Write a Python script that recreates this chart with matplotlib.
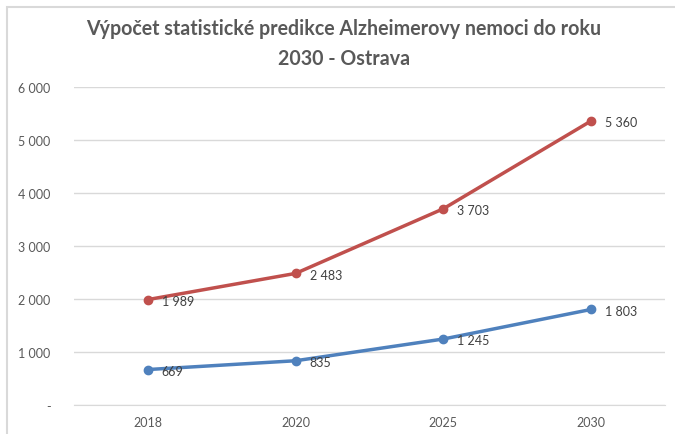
import matplotlib
matplotlib.use("Agg")
import matplotlib.pyplot as plt
from matplotlib.patches import Rectangle

years = ["2018", "2020", "2025", "2030"]
red_values = [1989, 2483, 3703, 5360]
blue_values = [669, 835, 1245, 1803]
yticks = [0, 1000, 2000, 3000, 4000, 5000, 6000]
title = "Výpočet statistické predikce Alzheimerovy nemoci do roku\n2030 - Ostrava"

def fmt(v):
    if v == 0:
        return "-"
    return f"{v:,}".replace(",", " ")

plt.rcParams['font.family'] = ['Lato', 'DejaVu Sans']

fig = plt.figure(figsize=(6.75, 4.35), dpi=100)
fig.patches.append(Rectangle((7/675, -0.1), 1.2, 1 - 8/435 + 0.1, transform=fig.transFigure,
                             facecolor='white', edgecolor='#D9D9D9', lw=1.5, zorder=-1))
ax = fig.add_axes([74/675, 1 - 406/435, (665 - 74)/675, (406 - 88)/435])
ax.set_facecolor('none')

x = list(range(len(years)))
red = '#C0504D'
blue = '#4F81BD'
ax.plot(x, red_values, color=red, lw=2.5, marker='o', ms=6, zorder=3)
ax.plot(x, blue_values, color=blue, lw=2.5, marker='o', ms=6, zorder=3)
for xi, v in zip(x, red_values):
    ax.annotate(fmt(v), (xi, v), xytext=(10, -1), textcoords='offset points',
                va='center', ha='left', fontsize=9, color='#404040')
for xi, v in zip(x, blue_values):
    ax.annotate(fmt(v), (xi, v), xytext=(10, -1), textcoords='offset points',
                va='center', ha='left', fontsize=9, color='#404040')

ax.set_xlim(-0.5, len(years) - 0.5)
ax.set_ylim(0, 6000)
ax.set_xticks(x)
ax.set_xticklabels(years)
ax.set_yticks(yticks)
ax.set_yticklabels([fmt(v) for v in yticks])
ax.tick_params(axis='both', length=0, labelsize=9, labelcolor='#595959')
ax.tick_params(axis='y', pad=17)
ax.tick_params(axis='x', pad=8)
ax.grid(axis='y', color='#D9D9D9', lw=1)
ax.set_axisbelow(True)
for s in ['top', 'right', 'left']:
    ax.spines[s].set_visible(False)
ax.spines['bottom'].set_color('#D9D9D9')

fig.text(344/675, 1 - 44/435, title, ha='center', va='center', fontsize=14.1,
         fontweight='bold', color='#595959', linespacing=1.6)

fig.savefig("out.png", dpi=100)
